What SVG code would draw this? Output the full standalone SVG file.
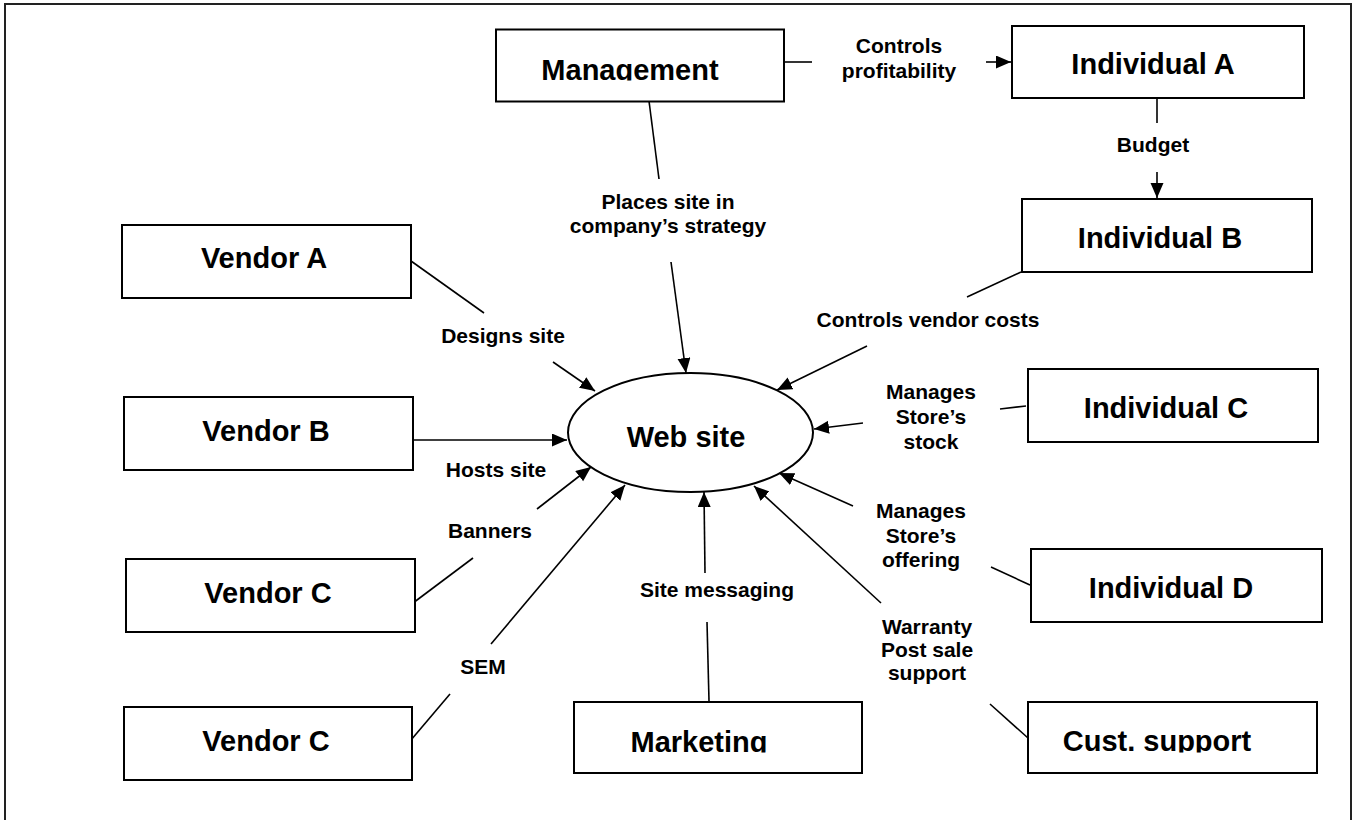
<svg xmlns="http://www.w3.org/2000/svg" width="1356" height="820" viewBox="0 0 1356 820">
<style>
.box{fill:#fff;stroke:#000;stroke-width:2}
.nt{font-family:"Liberation Sans",Arial,sans-serif;font-weight:bold;font-size:29px;fill:#000;text-anchor:middle}
.lb{font-family:"Liberation Sans",Arial,sans-serif;font-weight:bold;font-size:21px;fill:#000;text-anchor:middle}
.ln{stroke:#000;stroke-width:1.6;fill:none}
.ar{stroke:#000;stroke-width:1.6;fill:none;marker-end:url(#ah)}
</style>
<defs>
<marker id="ah" markerUnits="userSpaceOnUse" markerWidth="16" markerHeight="14" refX="15" refY="6.5" orient="auto">
<path d="M0,0 L15,6.5 L0,13 z" fill="#000"/>
</marker>
<clipPath id="cMgmt"><rect x="496" y="29" width="288" height="51.5"/></clipPath>
<clipPath id="cMkt"><rect x="574" y="702" width="288" height="50.5"/></clipPath>
<clipPath id="cCust"><rect x="1028" y="702" width="289" height="50.5"/></clipPath>
</defs>
<rect width="1356" height="820" fill="#fff"/>
<path d="M5,830 V4 H1351 V830" fill="none" stroke="#222" stroke-width="2"/>

<g id="connectors">
<line class="ln" x1="784" y1="62" x2="812" y2="62"/>
<line class="ar" x1="986" y1="62" x2="1011" y2="62"/>
<line class="ln" x1="1157" y1="99" x2="1157" y2="123"/>
<line class="ar" x1="1157" y1="172" x2="1157" y2="198"/>
<line class="ln" x1="649" y1="101" x2="659" y2="179"/>
<line class="ar" x1="671" y1="262" x2="686" y2="373"/>
<line class="ln" x1="1021" y1="272" x2="967" y2="297"/>
<line class="ar" x1="867" y1="346" x2="777" y2="390"/>
<line class="ln" x1="1026" y1="406" x2="1000" y2="409"/>
<line class="ar" x1="863" y1="423" x2="814" y2="429"/>
<line class="ln" x1="1030" y1="585" x2="991" y2="567"/>
<line class="ar" x1="853" y1="506" x2="779" y2="473"/>
<line class="ln" x1="1028" y1="738" x2="990" y2="704"/>
<line class="ar" x1="881" y1="603" x2="754" y2="486"/>
<line class="ln" x1="709" y1="701" x2="707" y2="622"/>
<line class="ar" x1="705" y1="573" x2="704" y2="492"/>
<line class="ln" x1="411" y1="261" x2="484" y2="313"/>
<line class="ar" x1="553" y1="362" x2="595" y2="391"/>
<line class="ar" x1="414" y1="440" x2="567" y2="440"/>
<line class="ln" x1="413" y1="603" x2="473" y2="558"/>
<line class="ar" x1="537" y1="509" x2="591" y2="467"/>
<line class="ln" x1="411" y1="740" x2="450" y2="694"/>
<line class="ar" x1="491" y1="644" x2="625" y2="485"/>
</g>

<g id="labels">
<text class="lb" x="899" y="53">Controls</text>
<text class="lb" x="899" y="78">profitability</text>
<text class="lb" x="1153" y="152">Budget</text>
<text class="lb" x="668" y="209">Places site in</text>
<text class="lb" x="668" y="233">company’s strategy</text>
<text class="lb" x="928" y="327">Controls vendor costs</text>
<text class="lb" x="503" y="343">Designs site</text>
<text class="lb" x="496" y="477">Hosts site</text>
<text class="lb" x="490" y="538">Banners</text>
<text class="lb" x="483" y="674">SEM</text>
<text class="lb" x="717" y="597">Site messaging</text>
<text class="lb" x="931" y="399">Manages</text>
<text class="lb" x="931" y="424">Store’s</text>
<text class="lb" x="931" y="449">stock</text>
<text class="lb" x="921" y="518">Manages</text>
<text class="lb" x="921" y="543">Store’s</text>
<text class="lb" x="921" y="567">offering</text>
<text class="lb" x="927" y="634">Warranty</text>
<text class="lb" x="927" y="657">Post sale</text>
<text class="lb" x="927" y="680">support</text>
</g>

<g id="management"><rect class="box" x="496" y="29.5" width="288" height="72"/><text class="nt" x="630" y="80" clip-path="url(#cMgmt)">Management</text></g>
<g id="individual-a"><rect class="box" x="1012" y="26" width="292" height="72"/><text class="nt" x="1153" y="74">Individual A</text></g>
<g id="individual-b"><rect class="box" x="1022" y="199" width="290" height="73"/><text class="nt" x="1160" y="248">Individual B</text></g>
<g id="individual-c"><rect class="box" x="1028" y="369" width="290" height="73"/><text class="nt" x="1166" y="418">Individual C</text></g>
<g id="individual-d"><rect class="box" x="1031" y="549" width="291" height="73"/><text class="nt" x="1171" y="598">Individual D</text></g>
<g id="cust-support"><rect class="box" x="1028" y="702" width="289" height="71"/><text class="nt" x="1157" y="751" clip-path="url(#cCust)">Cust. support</text></g>
<g id="marketing"><rect class="box" x="574" y="702" width="288" height="71"/><text class="nt" x="699" y="752" clip-path="url(#cMkt)">Marketing</text></g>
<g id="vendor-a"><rect class="box" x="122" y="225" width="289" height="73"/><text class="nt" x="264" y="268">Vendor A</text></g>
<g id="vendor-b"><rect class="box" x="124" y="397" width="289" height="73"/><text class="nt" x="266" y="441">Vendor B</text></g>
<g id="vendor-c1"><rect class="box" x="126" y="559" width="289" height="73"/><text class="nt" x="268" y="603">Vendor C</text></g>
<g id="vendor-c2"><rect class="box" x="124" y="707" width="288" height="73"/><text class="nt" x="266" y="751">Vendor C</text></g>
<g id="web-site"><ellipse cx="690.5" cy="432.5" rx="122.5" ry="59.5" fill="#fff" stroke="#000" stroke-width="2"/><text class="nt" x="686" y="447">Web site</text></g>
</svg>
